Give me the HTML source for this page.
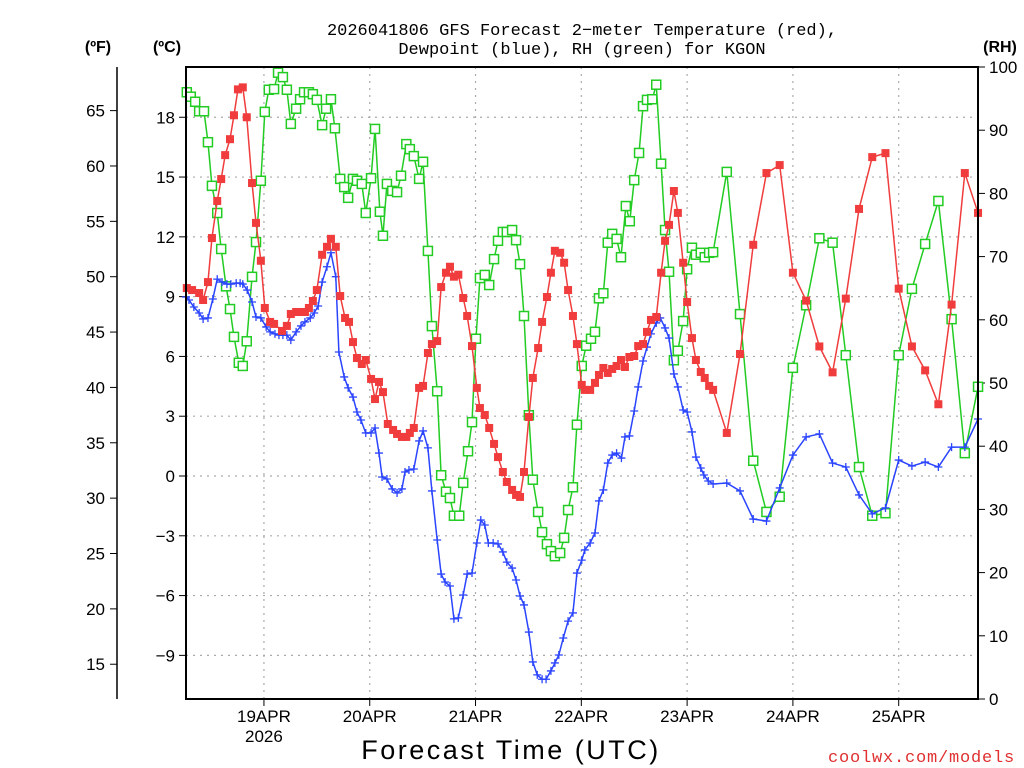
<!DOCTYPE html>
<html><head><meta charset="utf-8"><style>
html,body{margin:0;padding:0;background:#fff;}
svg{display:block;font-family:"Liberation Sans",sans-serif;}
</style></head><body>
<svg id="chart" width="1024" height="768" viewBox="0 0 1024 768">
<text x="582" y="35" text-anchor="middle" font-size="17" font-family="Liberation Mono, monospace">2026041806 GFS Forecast 2−meter Temperature (red),</text>
<text x="582" y="54" text-anchor="middle" font-size="17" font-family="Liberation Mono, monospace">Dewpoint (blue), RH (green) for KGON</text>
<text x="98" y="52" text-anchor="middle" font-size="16" font-weight="bold">(ºF)</text>
<text x="167" y="52" text-anchor="middle" font-size="16" font-weight="bold">(ºC)</text>
<text x="1000" y="52" text-anchor="middle" font-size="16" font-weight="bold">(RH)</text>
<text x="511" y="759" text-anchor="middle" font-size="27" letter-spacing="2.5">Forecast Time (UTC)</text>
<text x="1015" y="762" text-anchor="end" font-size="17" fill="#e03030" font-family="Liberation Mono, monospace" letter-spacing="0.8">coolwx.com/models</text>
<g id="grid"></g><g id="axes"></g><g id="series"></g>
<rect x="186" y="67" width="792" height="632" fill="none" stroke="#000" stroke-width="2"/>
</svg>
<script>
const tempHours=[0.5,1.7,3.3,4.2,5.3,6.2,7.4,8.3,9.2,10.3,11.2,12.1,13.2,14.1,15.3,16.2,17.3,18.2,19.4,20.3,22.1,23.2,24.1,25.3,26.4,27.3,28.2,29.1,30,31.2,32.3,33.2,34.3,35.3,36.4,37.3,38.2,39.1,40.2,41.1,42.3,43.2,44.1,45,46.1,47.3,48.2,49.3,50.3,51.1,52,53.2,54.1,55.2,56.1,57.3,58.2,59.3,60.2,61.1,62.1,63.2,64.1,65.2,66.3,67,68.1,69.1,70.2,71.1,72.2,73.1,74.3,75.2,76.1,77,78.1,79,80.2,81.1,82.2,83.1,84,85.2,86.1,87,88.1,89,90.1,90.8,92,93.1,94,95,96,97,98,99,99.9,100.9,102,102.9,104,104.9,105.8,107,108.1,109,109.9,111,111.9,113.1,114,115.1,116,117.1,118,119,119.9,123,126,129,132,135,138,141,144,147,150,153,156,159,162,165,168,171,174,177,180];
const tempC=[9.43,9.33,9.18,8.83,9.73,11.94,13.8,14.9,16.1,16.9,18.1,19.4,19.5,18.0,14.7,12.7,10.8,8.43,7.73,7.63,7.28,7.53,8.13,8.23,8.23,8.23,8.43,8.78,9.33,11.1,11.5,11.9,11.5,9.03,7.93,7.73,6.72,5.92,5.62,5.82,4.87,3.86,4.72,4.21,2.61,2.31,2.11,1.96,1.96,2.16,2.41,4.42,4.52,6.17,6.62,6.77,9.48,10.2,10.5,10.0,10.1,8.93,8.03,6.52,4.42,3.41,3.06,2.41,1.61,0.95,0.2,-0.3,-0.7,-0.95,-1.05,0.2,2.96,4.92,6.42,7.73,8.98,10.2,11.3,11.2,10.7,9.33,8.03,6.62,4.57,4.32,4.32,4.67,5.07,5.42,5.17,5.37,5.52,5.82,5.47,5.97,6.02,6.52,6.62,7.23,7.83,7.98,10.2,11.8,12.6,14.3,13.2,10.7,8.73,6.92,5.82,5.22,4.92,4.52,4.32,2.16,6.12,11.6,15.2,15.6,10.2,8.8,6.5,5.2,8.9,13.4,16.0,16.2,9.4,6.5,5.3,3.6,8.6,15.2,13.2];
const dewHours=[0.3,1,2.1,3.3,4.2,5.3,6.4,7.4,8.5,9.6,10.5,11.7,12.6,13.2,14.2,15.3,16.2,17.3,18.5,19.4,20.5,21.4,22.3,23.2,24.1,25.3,26.4,27.3,28.5,29.4,30.3,31.2,32.3,33.2,34.3,35,36.2,37.1,38.2,39.1,40,41.1,42.3,43.2,44.1,44.8,45.9,47.1,48.2,49.3,50,50.9,52,53.2,54.1,55.2,56.1,57.3,58.2,59.1,60.2,61.1,62.1,63.2,64.1,65.2,66.3,67.2,68.1,68.9,70,71.1,72.2,73.1,74.3,75.2,76.1,77,78.1,79,80,81.1,82,83.1,84,84.9,85.9,87,88.1,89,90.1,90.8,92,93.1,94,95,96,97,98,99.1,99.9,100.9,102,102.9,104,104.9,105.8,107,107.9,109,109.9,111,111.9,113.1,114,115.1,116,117.1,117.8,118.8,119.9,123,126,129,132,135,138,141,144,147,150,153,156,159,162,165,168,171,174,177,180];
const dewC=[8.98,8.83,8.48,8.18,7.88,7.93,8.88,9.88,9.73,9.63,9.63,9.68,9.68,9.63,9.33,8.73,7.98,7.93,7.48,7.23,7.13,7.07,7.07,7.07,6.82,7.23,7.53,7.73,7.93,8.18,8.53,9.73,10.5,11.2,10.0,6.22,4.97,4.42,3.96,3.21,2.81,2.16,2.16,2.41,1.15,-0.05,-0.15,-0.65,-0.85,-0.65,0.2,0.3,0.35,1.76,2.26,1.41,-0.75,-3.21,-4.92,-5.32,-5.52,-7.17,-7.12,-5.97,-4.92,-4.87,-3.36,-2.21,-2.46,-3.36,-3.36,-3.41,-3.81,-4.32,-4.62,-5.22,-6.02,-6.47,-7.83,-9.33,-9.98,-10.2,-10.2,-9.78,-9.38,-8.98,-8.13,-7.28,-6.87,-4.87,-4.22,-3.71,-3.36,-2.86,-1.25,-0.7,0.65,1.05,1.15,0.9,1.96,2.01,3.26,4.47,5.77,6.47,7.13,7.68,7.93,7.43,6.92,5.12,4.47,3.31,3.21,2.21,0.95,0.4,0.05,-0.25,-0.4,-0.35,-0.75,-2.16,-2.26,-0.6,1.05,1.96,2.11,0.65,0.45,-0.95,-1.9,-1.6,0.8,0.5,0.7,0.45,1.45,1.45,2.86];
const rhHours=[0.5,1.4,2.4,3.3,4.4,5.3,6.2,7.4,8.3,9.4,10.3,11.2,12.3,13.2,14.1,15.3,16.2,17.3,18.2,19.1,20.3,21.2,22.3,23.2,24.1,25.3,26.2,27.1,28.2,29.1,30,31.2,32.1,33.2,34.1,35.3,36.2,37.1,38.2,39.1,40.2,41.1,42.3,43.2,44.3,45,45.9,47.1,48.2,49.1,50.3,51.1,52,53.2,54.1,55.2,56.1,57.3,58.2,59.3,60.2,61.1,62.3,63.2,64.3,65.2,66.1,67,68.1,69.1,70.2,71.1,72.2,73.1,74.3,75.2,76.1,77,78.1,79,80.2,81.1,82.2,83.1,84,85.2,86.1,87,88.1,89,90.1,91.1,92.2,93.1,94,95,96,97,98,99,100.1,101,102,103.1,104,104.9,106.1,107,108.1,109,109.9,111,111.9,113.1,114,115.1,116,117.1,118,119,119.9,123,126,129,132,135,138,141,144,147,150,153,156,159,162,165,168,171,174,177,180];
const rhPct=[96,95.3,94.5,93,93,88.1,81.2,76.9,71.2,65.3,61.7,57.3,53.2,52.7,56.6,66.8,72.3,82,92.9,96.4,96.5,99.1,98.4,96.4,91,93.4,94.9,96,96,95.7,94.8,90.8,93.4,94.9,90.3,82.3,81,79.3,82.3,82,81.5,76.9,82.4,90.2,77.1,73.3,81.5,80.4,80.2,82.8,87.8,87,85.9,82.3,85,70.9,59,48.7,35.4,32.8,31.8,29,29,34.2,39.2,43.8,57,66.6,67.1,65.5,69.6,72.5,73.9,73.9,74.2,72.6,68.8,60.6,44.9,34.7,29.6,26.4,24.5,23.4,22.6,23.1,25.5,29.9,33.5,43.4,52.7,55.9,57,58.1,63.4,64.2,72.2,73.6,72.8,69.9,78,75.6,82.1,86.4,93.8,94.8,94.9,97.2,84.7,74.2,67.6,53.6,55.1,59.8,68,71.4,70.3,70.6,69.9,70.6,70.7,83.4,60.9,37.7,29.6,32,52.4,62.3,72.9,72.2,54.4,36.7,29,29.4,54.4,64.9,72,78.8,60.1,38.9,49.4];
const dayLabels=["19APR","20APR","21APR","22APR","23APR","24APR","25APR"];
const celsiusTicks=[-9,-6,-3,0,3,6,9,12,15,18];
const fahrenheitTicks=[15,20,25,30,35,40,45,50,55,60,65];
const rhTicks=[0,10,20,30,40,50,60,70,80,90,100];

const NS="http://www.w3.org/2000/svg";
const X0=184.6,PXH=4.408,L=186,R=978,T=67,B=699;
const xH=h=>X0+h*PXH;
const yC=c=>476-c*19.93;
const yF=f=>yC((f-32)*5/9);
const yRH=r=>B-r*6.32;
function mk(tag,attrs,parent){const e=document.createElementNS(NS,tag);for(const k in attrs)e.setAttribute(k,attrs[k]);parent.appendChild(e);return e;}
const grid=document.getElementById('grid'),axes=document.getElementById('axes'),series=document.getElementById('series');

celsiusTicks.forEach(c=>{
  const y=yC(c);
  const g=mk('line',{x1:L,x2:R,y1:y,y2:y,stroke:'#aaa','stroke-dasharray':'2 5','stroke-width':1.2},grid);
  
  
  const t=mk('line',{x1:L-7,x2:L,y1:y,y2:y,stroke:'#000'},axes);
  
  
  const tx=mk('text',{x:175,y:y+6,'text-anchor':'end','font-size':17},axes);
  tx.textContent=c<0?'−'+Math.abs(c):String(c);
  
  
});
const fAxis=mk('line',{x1:117,x2:117,y1:T,y2:B,stroke:'#000','stroke-width':1.5},axes);


fahrenheitTicks.forEach(f=>{
  const y=yF(f);
  const t=mk('line',{x1:110,x2:117,y1:y,y2:y,stroke:'#000'},axes);
  
  
  const tx=mk('text',{x:105,y:y+6,'text-anchor':'end','font-size':17},axes);
  tx.textContent=String(f);
  
  
});
rhTicks.forEach(r=>{
  const y=yRH(r);
  const t=mk('line',{x1:R,x2:R+7,y1:y,y2:y,stroke:'#000'},axes);
  
  
  const tx=mk('text',{x:989,y:y+6,'text-anchor':'start','font-size':17},axes);
  tx.textContent=String(r);
  
  
});
dayLabels.forEach((d,i)=>{
  const x=xH(18+24*i);
  const g=mk('line',{x1:x,x2:x,y1:T,y2:B,stroke:'#aaa','stroke-dasharray':'2 5','stroke-width':1.2},grid);
  
  
  const t=mk('line',{x1:x,x2:x,y1:B,y2:B+7,stroke:'#000'},axes);
  
  
  const tx=mk('text',{x:x,y:722,'text-anchor':'middle','font-size':17},axes);
  tx.textContent=d;
  
  
});
const yr=mk('text',{x:xH(18),y:742,'text-anchor':'middle','font-size':17},axes);
yr.textContent='2026';



function drawSeries(hours,vals,yf,color,kind,name){
  const g=mk('g',{},series);
  
  
  const pts=hours.map((h,i)=>[xH(h),yf(vals[i])]);
  const pl=mk('polyline',{points:pts.map(p=>p.join(',')).join(' '),fill:'none',stroke:color,'stroke-width':1.5},g);
  
  
  pts.forEach(([x,y])=>{
    if(x<L-1||x>R+1)return;
    let m;
    if(kind==='fill')m=mk('rect',{x:x-4,y:y-4,width:8,height:8,fill:color},g);
    else if(kind==='open')m=mk('rect',{x:x-4.5,y:y-4.5,width:9,height:9,fill:'#fff',stroke:color,'stroke-width':1.5},g);
    else m=mk('path',{d:`M${x-4},${y}H${x+4}M${x},${y-4}V${y+4}`,stroke:color,'stroke-width':1.3},g);
    
    
  });
}
drawSeries(rhHours,rhPct,yRH,'#22cc22','open','rh-series');
drawSeries(dewHours,dewC,yC,'#2a44ff','plus','dewpoint-series');
drawSeries(tempHours,tempC,yC,'#f03c3c','fill','temperature-series');
</script>
</body></html>
